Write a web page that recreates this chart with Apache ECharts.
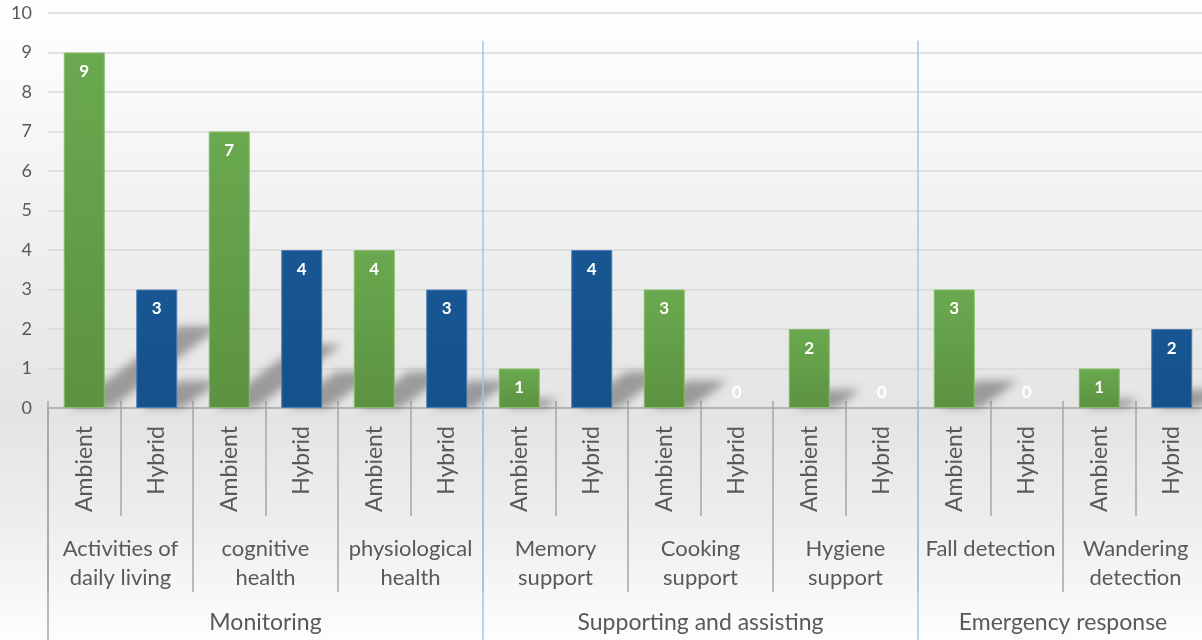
<!DOCTYPE html>
<html>
<head>
<meta charset="utf-8">
<script src="https://cdn.jsdelivr.net/npm/echarts@6/dist/echarts.min.js"></script>
<style>
  html, body { margin: 0; padding: 0; background: #ffffff; }
  #chart { width: 1202px; height: 640px; }
</style>
</head>
<body>
<div id="chart"></div>
<script>
// Top-level groups, their sub-categories and the two sensing types
const groups = ['Monitoring', 'Supporting and assisting', 'Emergency response'];
const groupSizes = [3, 3, 2]; // sub-categories in each group
const subcategories = [
  'Activities of\ndaily living', 'cognitive\nhealth', 'physiological\nhealth',
  'Memory\nsupport', 'Cooking\nsupport', 'Hygiene\nsupport',
  'Fall detection', 'Wandering\ndetection'
];
const types = ['Ambient', 'Hybrid'];

// Counts per sub-category
const ambientValues = [9, 7, 4, 1, 3, 2, 3, 1];
const hybridValues = [3, 4, 3, 4, 0, 0, 0, 2];

// Value axis
const yMin = 0;
const yMax = 10;
const yInterval = 1;

const FONT = 'Lato, "Open Sans", sans-serif';
const TEXT = '#595959';
const LINE = '#a6a6a6';
const DIVIDER = '#a9c5e4';
const BAR_WIDTH = 41;
const SHADOW_SHIFT = 6;
const SHADOW_SKEW_X = 0.31;
const SHADOW_SKEW_Y = 0.23;
const SHADOW_FAR = 3000;
const SEPARATOR_TOP = 9.3;
const GROUP_LABEL_DROP = 215;

// One slot per (sub-category, type) pair
const leafCategories = subcategories.flatMap(() => types);
const ambientSlots = ambientValues.flatMap(v => [v, '-']);
const hybridSlots = hybridValues.flatMap(v => ['-', v]);
const allSlots = ambientValues.flatMap((v, i) => [v, hybridValues[i]]);

// Leaf ranges covered by each top-level group: [first, last, groupIndex]
const groupSpans = [];
groupSizes.reduce((start, n, k) => {
  const leaves = n * types.length;
  groupSpans.push([start, start + leaves - 1, k]);
  return start + leaves;
}, 0);

function withZeroLabels(slots) {
  return slots.map(v => v === 0
    ? { value: 0, itemStyle: { borderWidth: 0 }, label: { position: 'top', distance: 7 } }
    : v);
}

const chart = echarts.init(document.getElementById('chart'));

function barFill(top, bottom) {
  return new echarts.graphic.LinearGradient(0, 0, 0, 1, [
    { offset: 0, color: top },
    { offset: 1, color: bottom }
  ]);
}

// Soft perspective shadow cast up and to the right behind each bar.
// The shape itself sits far off-canvas; only its blurred shadow is seen.
function renderShadow(params, api) {
  const i = api.value(0);
  const v = api.value(1);
  if (!v) return null;
  const base = api.coord([i, 0]);
  const top = api.coord([i, v]);
  const h = base[1] - top[1];
  const x0 = base[0] - BAR_WIDTH / 2 + SHADOW_SHIFT - SHADOW_FAR;
  const x1 = base[0] + BAR_WIDTH / 2 + SHADOW_SHIFT - SHADOW_FAR;
  const dx = h * SHADOW_SKEW_X;
  const dy = h * SHADOW_SKEW_Y;
  return {
    type: 'polygon',
    shape: {
      points: [[x0, base[1]], [x1, base[1]], [x1 + dx, base[1] - dy], [x0 + dx, base[1] - dy]]
    },
    style: {
      fill: '#808080',
      shadowBlur: 9,
      shadowOffsetX: SHADOW_FAR,
      shadowColor: 'rgba(100,100,100,0.58)'
    },
    silent: true
  };
}

// Top-level group captions and the lines separating the groups
function renderGroup(params, api) {
  const first = api.value(0);
  const last = api.value(1);
  const k = api.value(2);
  const w = api.size([1, 0])[0];
  const left = api.coord([first, 0])[0] - w / 2;
  const right = api.coord([last, 0])[0] + w / 2;
  const base = api.coord([first, 0])[1];
  const bottom = api.getHeight();
  const edge = k === 0
    ? { type: 'line', shape: { x1: left, y1: base, x2: left, y2: bottom },
        style: { stroke: LINE, lineWidth: 1.5 } }
    : { type: 'line', shape: { x1: left, y1: api.coord([first, SEPARATOR_TOP])[1], x2: left, y2: bottom },
        style: { stroke: DIVIDER, lineWidth: 1.5 } };
  return {
    type: 'group',
    children: [
      edge,
      {
        type: 'text',
        style: {
          text: groups[k],
          x: (left + right) / 2,
          y: base + GROUP_LABEL_DROP,
          align: 'center',
          verticalAlign: 'middle',
          fill: TEXT,
          font: '23px ' + FONT
        }
      }
    ],
    silent: true
  };
}

const baseXAxis = {
  type: 'category',
  position: 'bottom',
  offset: 0,
  boundaryGap: true,
  axisLine: { show: false },
  splitLine: { show: false },
  axisPointer: { show: false }
};

chart.setOption({
  backgroundColor: new echarts.graphic.LinearGradient(0, 0, 0, 1, [
    { offset: 0, color: '#ffffff' },
    { offset: 0.15, color: '#f9f9f9' },
    { offset: 0.4, color: '#eeeeee' },
    { offset: 0.65, color: '#e4e4e4' },
    { offset: 0.82, color: '#eeeeee' },
    { offset: 1, color: '#fdfdfd' }
  ]),
  animation: false,
  textStyle: { fontFamily: FONT },
  grid: {
    left: 48, top: 13, width: 1160, bottom: 232,
    containLabel: false, outerBoundsMode: 'none'
  },
  yAxis: {
    type: 'value',
    min: yMin,
    max: yMax,
    interval: yInterval,
    axisLine: { show: false },
    axisTick: { show: false },
    axisLabel: { color: TEXT, fontSize: 18, fontFamily: FONT, margin: 16 },
    splitLine: { lineStyle: { color: '#d9d9d9', width: 1.5 } }
  },
  xAxis: [
    Object.assign({}, baseXAxis, {
      data: leafCategories,
      axisLine: { show: true, lineStyle: { color: LINE, width: 1.5 } },
      axisTick: { show: true, length: 108, lineStyle: { color: LINE, width: 1.5 } },
      axisLabel: {
        interval: 0, rotate: 90, margin: 18,
        color: TEXT, fontSize: 23, fontFamily: FONT
      }
    }),
    Object.assign({}, baseXAxis, {
      data: subcategories,
      axisTick: { show: true, length: 184, lineStyle: { color: LINE, width: 1.5 } },
      axisLabel: {
        interval: 0, margin: 126, lineHeight: 29,
        color: TEXT, fontSize: 22, fontFamily: FONT
      }
    }),
    Object.assign({}, baseXAxis, {
      data: leafCategories,
      axisTick: { show: true, inside: true, length: 7, lineStyle: { color: LINE, width: 1.5 } },
      axisLabel: { show: false }
    })
  ],
  series: [
    {
      type: 'custom',
      name: 'shadow',
      xAxisIndex: 0,
      renderItem: renderShadow,
      data: allSlots.map((v, i) => [i, v]),
      encode: { x: 0, y: 1 },
      clip: false,
      z: 1,
      silent: true
    },
    {
      type: 'bar',
      name: 'Ambient',
      xAxisIndex: 0,
      data: withZeroLabels(ambientSlots),
      barWidth: BAR_WIDTH,
      barGap: '-100%',
      z: 3,
      itemStyle: {
        color: barFill('#6aa94f', '#5c9241'),
        borderColor: '#86bd69',
        borderWidth: 1
      },
      label: {
        show: true, position: 'insideTop', distance: 11,
        color: '#ffffff', fontWeight: 'bold', fontSize: 17, fontFamily: FONT
      }
    },
    {
      type: 'bar',
      name: 'Hybrid',
      xAxisIndex: 0,
      data: withZeroLabels(hybridSlots),
      barWidth: BAR_WIDTH,
      barGap: '-100%',
      z: 3,
      itemStyle: {
        color: barFill('#185793', '#15518b'),
        borderColor: '#4d7db3',
        borderWidth: 1
      },
      label: {
        show: true, position: 'insideTop', distance: 11,
        color: '#ffffff', fontWeight: 'bold', fontSize: 17, fontFamily: FONT
      }
    },
    {
      type: 'custom',
      name: 'groups',
      xAxisIndex: 0,
      renderItem: renderGroup,
      data: groupSpans,
      encode: { x: 0, y: 2 },
      clip: false,
      z: 4,
      silent: true
    }
  ]
});
</script>
</body>
</html>
